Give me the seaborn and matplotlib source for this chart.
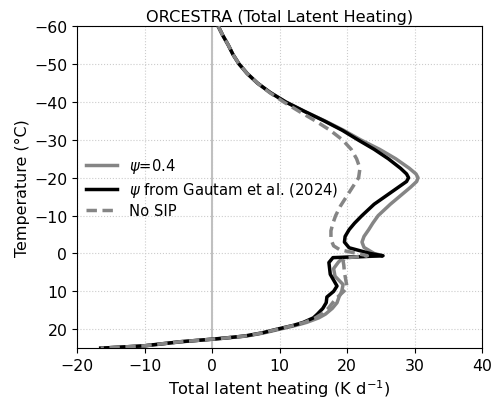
import matplotlib
matplotlib.use("Agg")
import matplotlib.pyplot as plt
import seaborn as sns
import pandas as pd

# ---- data ----
temp_gautam = [-60, -57.5, -55, -52.5, -50, -47.5, -45, -42.5, -40, -37.5, -35, -32.5, -30, -27.5, -25,
               -22.5, -21, -20, -19, -17.5, -16, -13, -10, -8, -6.3, -4.5, -3, -1.5, 0, 0.6,
               1.1, 2.4, 5.5, 8.6, 10, 11.5, 13, 14.5, 16, 17, 18.2, 19, 20, 21, 21.8, 22.3, 22.6,
               23.3, 24.4, 25]
lh_gautam = [0.9, 1.6, 2.4, 3.1, 4.0, 5.2, 6.7, 8.6, 10.9, 13.7, 16.6, 19.3, 21.6, 24.0, 26.1,
             27.9, 28.8, 29.1, 28.8, 27.6, 26.4, 24.0, 22.2, 21.1, 20.3, 19.7, 19.6, 20.3, 23.4, 25.3,
             17.9, 17.3, 17.5, 18.5, 18.0, 17.0, 16.9, 16.4, 15.6, 15.0, 13.5, 12.0, 9.6, 7.3, 4.8, 2.0, 0.2,
             -4.7, -10.2, -16.5]

temp_psi04 = [-60, -57.5, -55, -52.5, -50, -47.5, -45, -42.5, -40, -37.5, -35, -32.5, -30, -27.5, -25,
              -22.5, -21, -20, -19, -17.5, -16, -13, -10, -8, -6.3, -4.5, -3, -1.6, 0, 0.6,
              1.1, 2.3, 4, 6, 8.2, 10, 11.5, 13, 14.5, 16, 17, 18.2, 19, 20, 21, 21.8, 22.3, 22.6,
              23.3, 24.4, 25]
lh_psi04 = [0.9, 1.6, 2.4, 3.1, 4.0, 5.2, 6.7, 8.6, 10.9, 13.7, 16.7, 19.5, 22.0, 24.8, 27.2,
            29.2, 30.2, 30.5, 30.3, 29.4, 28.4, 26.4, 24.6, 23.8, 23.2, 22.5, 22.2, 22.5, 24.0, 25.3,
            19.4, 18.7, 18.0, 18.2, 19.4, 19.2, 18.8, 18.5, 17.8, 16.8, 15.8, 14.0, 12.4, 10.0, 7.6, 5.1, 2.2, 0.4,
            -4.5, -10.0, -16.5]

temp_nosip = [-60, -57.5, -55, -52.5, -50, -47.5, -45, -42.5, -40, -37.5, -35, -32.5, -30, -27.5, -25,
              -22.5, -20, -17.5, -15, -12.5, -10, -8, -6, -3.7, -2, -1, 0, 0.6,
              1.2, 2, 3, 5, 7, 9, 10, 12, 14.5, 16, 17, 18.2, 19, 20, 21, 21.8, 22.3, 22.6,
              23.3, 24.4, 25]
lh_nosip = [0.9, 1.6, 2.4, 3.1, 4.0, 5.2, 6.7, 8.5, 10.6, 12.9, 15.3, 17.5, 19.3, 20.6, 21.4,
            21.9, 21.7, 20.8, 19.9, 19.0, 18.3, 17.9, 17.6, 17.6, 18.0, 18.9, 21.5, 23.0,
            19.6, 19.4, 19.5, 19.6, 19.8, 20.0, 19.5, 18.3, 17.2, 16.2, 15.3, 13.7, 12.1, 9.7, 7.4, 4.9, 2.1, 0.2,
            -4.7, -10.2, -16.5]

labels = [r"$\psi$=0.4", r"$\psi$ from Gautam et al. (2024)", "No SIP"]

x_ticks = [-20, -10, 0, 10, 20, 30, 40]
y_ticks = [-60, -50, -40, -30, -20, -10, 0, 10, 20]

df = pd.concat([
    pd.DataFrame({"T": temp_psi04, "LH": lh_psi04, "run": labels[0]}),
    pd.DataFrame({"T": temp_gautam, "LH": lh_gautam, "run": labels[1]}),
    pd.DataFrame({"T": temp_nosip, "LH": lh_nosip, "run": labels[2]}),
], ignore_index=True)

fig = plt.figure(figsize=(4.91, 4.06), dpi=100)
ax = fig.add_axes([0.157, 0.140, 0.825, 0.793])

ax.axvline(0, color="#c0c0c0", lw=1.5, zorder=1)

palette = {labels[0]: "#858585", labels[1]: "black", labels[2]: "#858585"}
dashes = {labels[0]: "", labels[1]: "", labels[2]: (3, 1.6)}
sns.lineplot(data=df, x="LH", y="T", hue="run", style="run", palette=palette,
             dashes=dashes, orient="y", sort=True, estimator=None, lw=2.5, ax=ax,
             zorder=3)

ax.set_xlim(-20, 40)
ax.set_ylim(25, -60)
ax.set_xticks(x_ticks)
ax.set_yticks(y_ticks)
ax.tick_params(labelsize=11.3)
ax.grid(True, linestyle=":", color="#cccccc", lw=0.8, zorder=0)
ax.set_axisbelow(True)

ax.set_title("ORCESTRA (Total Latent Heating)", fontsize=11.6, pad=4)
ax.set_xlabel(r"Total latent heating (K d$^{-1}$)", fontsize=11.7, labelpad=3)
ax.set_ylabel("Temperature (°C)", fontsize=11.4, labelpad=3)

leg = ax.legend(loc="center left", bbox_to_anchor=(-0.01, 0.50), frameon=False,
                fontsize=10.6, handlelength=2.1, labelspacing=0.32, title=None)

fig.savefig("out.png", dpi=100)
